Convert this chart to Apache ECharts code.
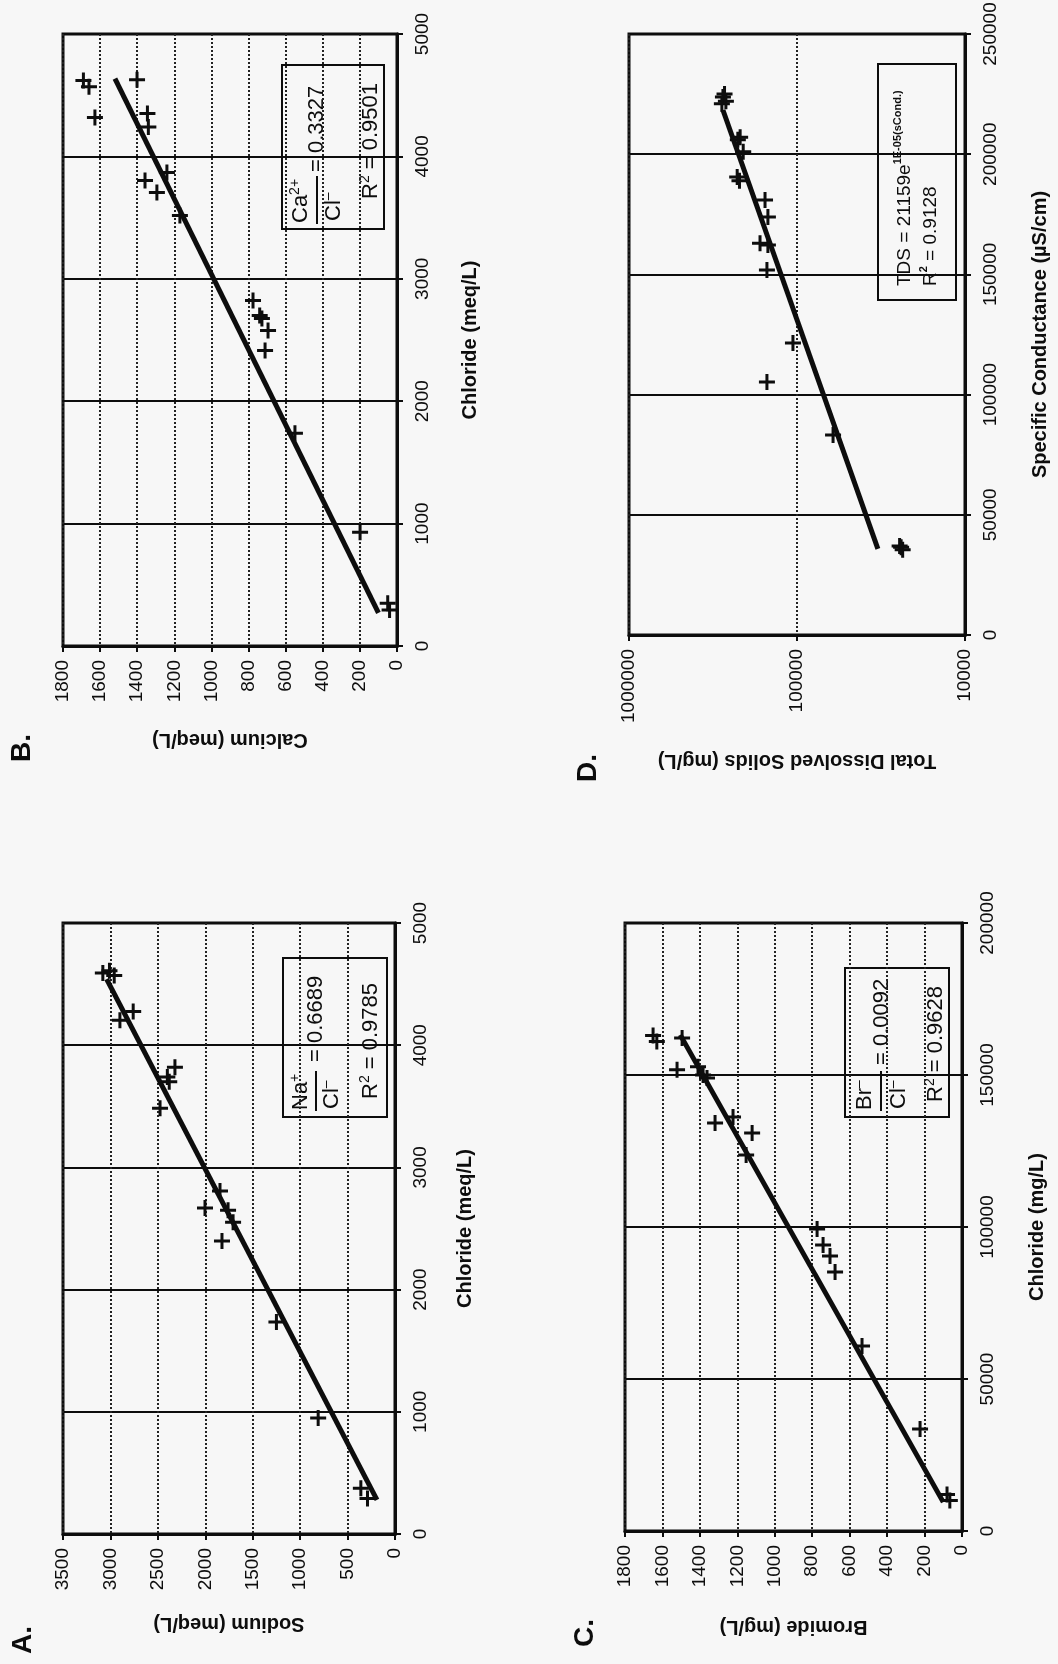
<!DOCTYPE html>
<html>
<head>
<meta charset="utf-8">
<title>Brine chemistry cross-plots</title>
<script src="https://cdn.jsdelivr.net/npm/echarts@6/dist/echarts.min.js"></script>
<style>
  html, body { margin: 0; padding: 0; background: #f7f7f7; }
  #chart { width: 1058px; height: 1664px; }
</style>
</head>
<body>
<div id="chart"></div>
<script>
// page is printed sideways: every panel is turned 90deg anticlockwise,
// so the original x variable runs up the right side and the y variable along the bottom

// A. sodium vs chloride (meq/L)
const sodiumA = [360, 290, 810, 1250, 1824, 2003, 1845, 1760, 1707, 2477, 2400, 2320, 2380, 2900, 2760, 3080, 2960, 3010];
const chlorideA = [375, 290, 950, 1735, 2397, 2667, 2806, 2650, 2552, 3485, 3740, 3820, 3700, 4205, 4275, 4590, 4570, 4610];
const fitSodiumA = [190, 3040];
const fitChlorideA = [280, 4540];

// B. calcium vs chloride (meq/L)
const calciumB = [50, 40, 199, 550, 711, 695, 728, 740, 776, 1170, 1294, 1358, 1240, 1345, 1340, 1628, 1401, 1690, 1660];
const chlorideB = [350, 295, 930, 1738, 2415, 2578, 2676, 2700, 2823, 3517, 3705, 3803, 3868, 4350, 4240, 4317, 4627, 4620, 4570];
const fitCalciumB = [100, 1520];
const fitChlorideB = [270, 4635];

// C. bromide vs chloride (mg/L)
const bromideC = [80, 65, 224, 534, 678, 705, 742, 774, 1153, 1121, 1319, 1223, 1362, 1383, 1410, 1522, 1495, 1650, 1630];
const chlorideC = [12000, 10000, 33560, 60860, 85200, 90475, 94100, 99360, 123700, 130900, 134200, 136200, 149000, 150000, 152700, 151700, 162200, 163000, 161000];
const fitBromideC = [100, 1505];
const fitChlorideC = [9500, 163200];

// D. total dissolved solids (log) vs specific conductance
const tdsD = [24500, 23500, 24000, 61000, 151000, 105700, 151000, 149000, 166000, 149000, 155000, 227000, 220000, 209000, 218000, 225000, 276000, 270000, 265000, 280000];
const condD = [37000, 35500, 36500, 83200, 105250, 121500, 151800, 162200, 163000, 173900, 181000, 190500, 189000, 201000, 207000, 206000, 223800, 225000, 222000, 221000];
const fitTdsD = [33000, 276000];
const fitCondD = [35800, 218400];

const FONT = 'Liberation Sans, Arial, Helvetica, sans-serif';
const INK = '#0d0d0d';
const BG = '#f7f7f7';
const PLUS = 'path://M6.5,0H9.5V6.5H16V9.5H9.5V16H6.5V9.5H0V6.5H6.5Z';

const zip = (a, b) => a.map((v, i) => [v, b[i]]);
const plain = v => String(Math.round(v));

// horizontal axis in the picture (original y axis), values grow to the left
function bottomAxis(gridIndex, name, nameGap, extra) {
    return Object.assign({
        gridIndex: gridIndex,
        type: 'value',
        inverse: true,
        position: 'bottom',
        name: name,
        nameLocation: 'middle',
        nameRotate: 180,
        nameGap: nameGap,
        nameTextStyle: { fontFamily: FONT, fontSize: 20, fontWeight: 'bold', color: INK },
        axisLine: { show: true, onZero: false, lineStyle: { color: INK, width: 3 } },
        axisTick: { show: true, length: 6, lineStyle: { color: INK, width: 2 } },
        axisLabel: { rotate: 90, margin: 14, fontFamily: FONT, fontSize: 19, color: INK, formatter: plain },
        splitLine: { show: true, lineStyle: { color: '#222', width: 2, type: [2, 2] } }
    }, extra);
}

// vertical axis on the right (original x axis), values grow upward
function rightAxis(gridIndex, name, nameGap, extra) {
    return Object.assign({
        gridIndex: gridIndex,
        type: 'value',
        position: 'right',
        name: name,
        nameLocation: 'middle',
        nameRotate: 90,
        nameGap: nameGap,
        nameTextStyle: { fontFamily: FONT, fontSize: 20, fontWeight: 'bold', color: INK },
        axisLine: { show: true, onZero: false, lineStyle: { color: INK, width: 3 } },
        axisTick: { show: true, length: 6, lineStyle: { color: INK, width: 2 } },
        axisLabel: { rotate: 90, margin: 16, fontFamily: FONT, fontSize: 19, color: INK, formatter: plain },
        splitLine: { show: true, lineStyle: { color: INK, width: 2 } }
    }, extra);
}

function points(i, data) {
    return {
        type: 'scatter', xAxisIndex: i, yAxisIndex: i, data: data,
        symbol: PLUS, symbolSize: 16, itemStyle: { color: INK, opacity: 1 }, silent: true, z: 3
    };
}

function fit(i, data) {
    return {
        type: 'line', xAxisIndex: i, yAxisIndex: i, data: data,
        symbol: 'none', lineStyle: { color: INK, width: 5 }, silent: true, z: 4
    };
}

// text helpers for the rotated equation boxes (local coords = unrotated box)
const rich = {
    n: { fontFamily: FONT, fontSize: 22, color: INK, lineHeight: 26 },
    s: { fontFamily: FONT, fontSize: 14, color: INK, verticalAlign: 'top', lineHeight: 14 },
    t: { fontFamily: FONT, fontSize: 19, color: INK, lineHeight: 26 },
    ts: { fontFamily: FONT, fontSize: 11, fontWeight: 'bold', color: INK, verticalAlign: 'top', lineHeight: 12 }
};
function txt(x, y, text) {
    return { type: 'text', x: x, y: y, style: { text: text, rich: rich, verticalAlign: 'middle', align: 'left', fill: INK } };
}
function bar(x1, x2, y) {
    return { type: 'line', shape: { x1: x1, y1: y, x2: x2, y2: y }, style: { stroke: INK, lineWidth: 2 } };
}
function box(x0, y0, w, h, items) {
    return {
        type: 'group', x: x0, y: y0, rotation: Math.PI / 2, z: 20,
        children: [{ type: 'rect', shape: { x: 0, y: 0, width: w, height: h }, style: { fill: BG, stroke: INK, lineWidth: 2 } }].concat(items)
    };
}
function letter(x, y, t) {
    return {
        type: 'text', x: x, y: y, rotation: Math.PI / 2, z: 20,
        style: { text: t, fontFamily: FONT, fontSize: 28, fontWeight: 'bold', fill: INK, align: 'center', verticalAlign: 'middle' }
    };
}

const chart = echarts.init(document.getElementById('chart'));

const option = {
    backgroundColor: BG,
    animation: false,
    grid: [
        { left: 63, top: 923, width: 332, height: 611, show: true, borderColor: INK, borderWidth: 3, outerBoundsMode: 'none' },
        { left: 63, top: 34, width: 334, height: 612, show: true, borderColor: INK, borderWidth: 3, outerBoundsMode: 'none' },
        { left: 625, top: 923, width: 337, height: 608, show: true, borderColor: INK, borderWidth: 3, outerBoundsMode: 'none' },
        { left: 629, top: 34, width: 336, height: 601, show: true, borderColor: INK, borderWidth: 3, outerBoundsMode: 'none' }
    ],
    xAxis: [
        bottomAxis(0, 'Sodium (meq/L)', 80, { min: 0, max: 3500, interval: 500 }),
        bottomAxis(1, 'Calcium (meq/L)', 84, { min: 0, max: 1800, interval: 200 }),
        bottomAxis(2, 'Bromide (mg/L)', 86, { min: 0, max: 1800, interval: 200 }),
        bottomAxis(3, 'Total Dissolved Solids (mg/L)', 116, { type: 'log', logBase: 10, min: 10000, max: 1000000 })
    ],
    yAxis: [
        rightAxis(0, 'Chloride (meq/L)', 60, { min: 0, max: 5000, interval: 1000 }),
        rightAxis(1, 'Chloride (meq/L)', 63, { min: 0, max: 5000, interval: 1000 }),
        rightAxis(2, 'Chloride (mg/L)', 65, { min: 0, max: 200000, interval: 50000 }),
        rightAxis(3, 'Specific Conductance (\u00b5S/cm)', 65, { min: 0, max: 250000, interval: 50000 })
    ],
    series: [
        points(0, zip(sodiumA, chlorideA)),
        fit(0, zip(fitSodiumA, fitChlorideA)),
        points(1, zip(calciumB, chlorideB)),
        fit(1, zip(fitCalciumB, fitChlorideB)),
        points(2, zip(bromideC, chlorideC)),
        fit(2, zip(fitBromideC, fitChlorideC)),
        points(3, zip(tdsD, condD)),
        fit(3, zip(fitTdsD, fitCondD))
    ],
    graphic: [
        letter(23, 1640, 'A.'),
        letter(22, 748, 'B.'),
        letter(585, 1633, 'C.'),
        letter(588, 768, 'D.'),
        box(283, 1117, 159, 104, [
            txt(7, 18, '{n|Na}{s|+}'),
            bar(6, 46, 33),
            txt(8, 49, '{n|Cl}{s|\u2013}'),
            txt(55, 33, '{n|= 0.6689}'),
            txt(18, 88, '{n|R}{s|2}{n| = 0.9785}')
        ]),
        box(282, 229, 164, 102, [
            txt(6, 19, '{n|Ca}{s|2+}'),
            bar(5, 53, 35),
            txt(8, 52, '{n|Cl}{s|\u2013}'),
            txt(57, 35, '{n|= 0.3327}'),
            txt(30, 89, '{n|R}{s|2}{n| = 0.9501}')
        ]),
        box(845, 1117, 149, 104, [
            txt(7, 20, '{n|Br}{s|\u2013}'),
            bar(6, 46, 36),
            txt(8, 54, '{n|Cl}{s|\u2013}'),
            txt(52, 37, '{n|= 0.0092}'),
            txt(15, 91, '{n|R}{s|2}{n| = 0.9628}')
        ]),
        box(878, 300, 236, 78, [
            txt(14, 27, '{t|TDS = 21159e}{ts|1E-05(sCond.)}'),
            txt(14, 53, '{t|R}{ts|2}{t| = 0.9128}')
        ])
    ]
};

chart.setOption(option);
</script>
</body>
</html>
